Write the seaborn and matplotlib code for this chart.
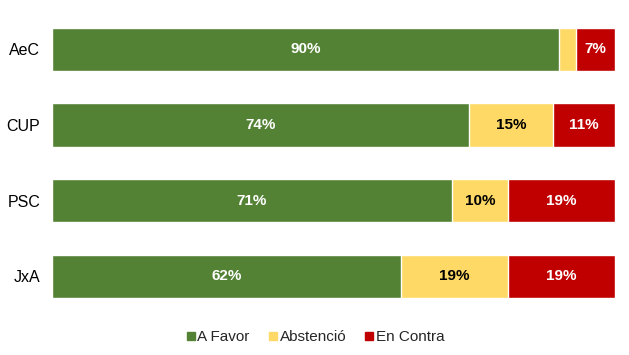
import matplotlib
matplotlib.use("Agg")
import matplotlib.pyplot as plt
from matplotlib.lines import Line2D
import seaborn as sns
import pandas as pd
import numpy as np

# Data
parties = ["AeC", "CUP", "PSC", "JxA"]
a_favor = [90, 74, 71, 62]
abstencio = [3, 15, 10, 19]
en_contra = [7, 11, 19, 19]

series_names = ["A Favor", "Abstenció", "En Contra"]
colors = ["#548235", "#FFD966", "#C00000"]
text_colors = ["white", "black", "white"]

sns.set_theme(style="white")
plt.rcParams['font.family'] = ['Liberation Sans', 'DejaVu Sans']

df = pd.DataFrame({
    "party": parties,
    "A Favor": a_favor,
    "Abstenció": abstencio,
    "En Contra": en_contra,
})
df["cum1"] = df["A Favor"]
df["cum2"] = df["A Favor"] + df["Abstenció"]
df["cum3"] = df["cum2"] + df["En Contra"]

fig = plt.figure(figsize=(6.29, 3.55), dpi=100)
ax = fig.add_axes([0.0827, 0.116, 0.895, 0.851])

# stacked bars: draw cumulative totals from back to front
for col, c in zip(["cum3", "cum2", "cum1"], colors[::-1]):
    sns.barplot(data=df, x=col, y="party", order=parties, color=c,
                width=0.57, edgecolor="white", linewidth=1.0,
                saturation=1, ax=ax)

# value labels
for i, p in enumerate(parties):
    left = 0
    for name, tc in zip(series_names, text_colors):
        v = df.loc[i, name]
        if v >= 5:
            ax.text(left + v / 2, i, f"{v}%", ha="center", va="center",
                    color=tc, fontsize=11, fontweight="bold")
        left += v

ax.set_xlim(0, 100)
ax.set_ylim(3.5, -0.5)
ax.set_xlabel("")
ax.set_ylabel("")
ax.set_xticks([])
ax.tick_params(axis="y", length=0, pad=8.5, labelsize=11.5, labelcolor="black")
sns.despine(ax=ax, left=True, bottom=True)

handles = [Line2D([], [], marker="s", linestyle="none", markersize=5.5,
                  markerfacecolor=c, markeredgecolor=c) for c in colors]
fig.legend(handles, series_names, loc="center", bbox_to_anchor=(0.5, 0.05),
           ncol=3, frameon=False, fontsize=11, handletextpad=0.05,
           columnspacing=1.1, handlelength=0.8)

fig.savefig("out.png", dpi=100)
